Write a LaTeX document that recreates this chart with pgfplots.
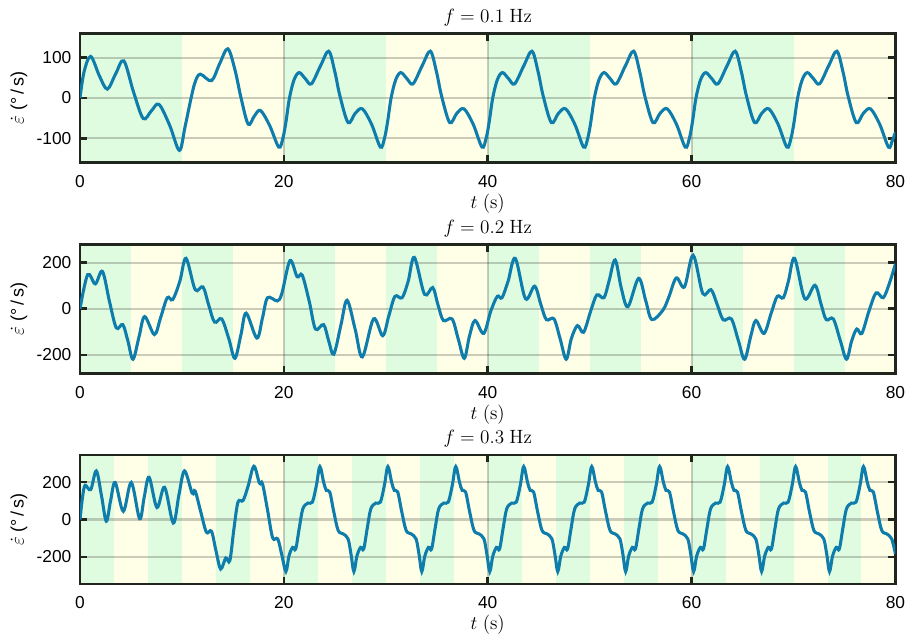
\documentclass[border=0pt]{standalone}
\usepackage[no-math]{fontspec}
\setmainfont{Liberation Sans}
\usepackage{pgfplots}
\pgfplotsset{compat=1.18}
\definecolor{bandgreen}{RGB}{224,252,224}
\definecolor{bandyellow}{RGB}{255,254,230}
\definecolor{curvecol}{RGB}{14,125,172}
\definecolor{framecol}{RGB}{32,38,30}
\pgfplotsset{
 set layers,
 myax/.style={
  scale only axis, width=611.6pt, height=96.75pt,
  xmin=0, xmax=80, xtick={0,20,40,60,80},
  clip mode=individual,
  axis background/.style={fill=bandyellow},
  axis line style={line width=2pt, draw=framecol},
  tick style={line width=2pt, draw=framecol},
  major tick length=5.5pt,
  tick align=inside,
  xmajorgrids, ymajorgrids,
  major grid style={line width=1.6pt, draw=black, opacity=0.2},
  /pgf/number format/assume math mode=true,
  tick label style={font=\fontsize{13}{15}\selectfont},
  xticklabel style={yshift=-6pt},
  yticklabel style={xshift=-3pt},
  label style={font=\fontsize{14.4}{17}\selectfont},
  xlabel style={yshift=2pt},
  title style={font=\fontsize{14.4}{17}\selectfont, yshift=-4pt},
  xlabel={$t\ (\mathrm{s})$},
  ylabel={$\dot{\varepsilon}$ (°\,/\,s)},
  ylabel style={font=\fontsize{13.5}{16}\selectfont, xshift=0pt},
  anchor=north west,
 },
 bg/.style={fill=bandgreen, draw=none, forget plot, on layer=axis background},
 cv/.style={draw=curvecol, line width=2.3pt, smooth, tension=0.55, mark=none},
}
\begin{document}
\begin{tikzpicture}
\path (0,0) (685.5pt,-475.5pt);
% ---------------- f = 0.1 Hz
\begin{axis}[myax, at={(60pt,-25.1pt)}, ymin=-160, ymax=160, ytick={-100,0,100},
  title={$f = 0.1\ \mathrm{Hz}$}]
\addplot[bg] coordinates {(0,-999) (10,-999) (10,999) (0,999)};
\addplot[bg] coordinates {(20,-999) (30,-999) (30,999) (20,999)};
\addplot[bg] coordinates {(40,-999) (50,-999) (50,999) (40,999)};
\addplot[bg] coordinates {(60,-999) (70,-999) (70,999) (60,999)};
\addplot[cv] coordinates {
(0,0) (0.4,65) (1.05,103) (1.9,55) (2.68,22) (3.5,60) (4.3,92) (5.25,15) (6.2,-51) (7.0,-32) (7.75,-16) (8.8,-68) (9.75,-130)
(10.3,-72) (10.9,0) (11.3,40) (11.8,59) (12.9,43) (13.7,85) (14.5,122) (15.2,70) (15.8,0) (16.5,-65) (17.1,-45) (17.7,-31) (18.6,-68)
(19.5,-122) (19.9,-100) (20.2,-60) (20.55,0) (21.0,45) (21.5,63) (22.1,48) (22.7,35) (23.6,80) (24.4,116) (25.0,65) (25.5,5) (26.3,-61) (27.0,-38) (27.7,-27) (28.6,-65)
(29.47,-122) (29.87,-100) (30.17,-60) (30.52,0) (30.97,45) (31.47,63) (32.07,48) (32.67,35) (33.57,80) (34.37,116) (34.97,65) (35.47,5) (36.27,-61) (36.97,-38) (37.67,-27) (38.57,-65)
(39.44,-122) (39.84,-100) (40.14,-60) (40.49,0) (40.94,45) (41.44,63) (42.04,48) (42.64,35) (43.54,80) (44.34,116) (44.94,65) (45.44,5) (46.24,-61) (46.94,-38) (47.64,-27) (48.54,-65)
(49.41,-122) (49.81,-100) (50.11,-60) (50.46,0) (50.91,45) (51.41,63) (52.01,48) (52.61,35) (53.51,80) (54.31,116) (54.91,65) (55.41,5) (56.21,-61) (56.91,-38) (57.61,-27) (58.51,-65)
(59.38,-122) (59.78,-100) (60.08,-60) (60.43,0) (60.88,45) (61.38,63) (61.98,48) (62.58,35) (63.48,80) (64.28,116) (64.88,65) (65.38,5) (66.18,-61) (66.88,-38) (67.58,-27) (68.48,-65)
(69.35,-122) (69.75,-100) (70.05,-60) (70.4,0) (70.85,45) (71.35,63) (71.95,48) (72.55,35) (73.45,80) (74.25,116) (74.85,65) (75.35,5) (76.15,-61) (76.85,-38) (77.55,-27) (78.45,-65)
(79.32,-122) (79.7,-105) (80,-85)
};
\end{axis}
% ---------------- f = 0.2 Hz
\begin{axis}[myax, at={(60pt,-183.2pt)}, ymin=-280, ymax=280, ytick={-200,0,200},
  title={$f = 0.2\ \mathrm{Hz}$}]
\addplot[bg] coordinates {(0,-999) (5,-999) (5,999) (0,999)};
\addplot[bg] coordinates {(10,-999) (15,-999) (15,999) (10,999)};
\addplot[bg] coordinates {(20,-999) (25,-999) (25,999) (20,999)};
\addplot[bg] coordinates {(30,-999) (35,-999) (35,999) (30,999)};
\addplot[bg] coordinates {(40,-999) (45,-999) (45,999) (40,999)};
\addplot[bg] coordinates {(50,-999) (55,-999) (55,999) (50,999)};
\addplot[bg] coordinates {(60,-999) (65,-999) (65,999) (60,999)};
\addplot[bg] coordinates {(70,-999) (75,-999) (75,999) (70,999)};
\addplot[cv] coordinates {
(0,0) (0.75,148) (1.5,108) (2.2,162) (2.9,30) (3.56,-83) (4.2,-69) (4.7,-140) (5.2,-219) (5.8,-120) (6.34,-34) (7.3,-112) (7.9,-40)
(8.56,48) (9.1,40) (9.8,120) (10.4,219) (11.3,83) (12.06,95) (12.6,20) (13.2,-58) (13.9,-44) (14.6,-130) (15.2,-215) (15.8,-110)
(16.3,-19) (17.35,-127) (17.9,-40) (18.4,48) (19.35,34) (19.8,66) (20.6,209) (21.3,139) (21.8,146) (22.5,30) (23.1,-88) (23.9,-69)
(24.4,-140) (24.9,-197) (25.6,-70) (26.2,37) (27.0,-90) (27.7,-209) (28.8,-44) (29.7,-117) (30.3,-30) (30.9,54) (31.6,48) (32.2,120)
(32.8,223) (33.8,63) (34.6,92) (35.1,20) (35.65,-51) (36.5,-44) (37.1,-130) (37.7,-215) (38.2,-120) (38.75,-51) (39.6,-107) (40.3,-10)
(40.94,54) (41.4,48) (42.0,120) (42.7,219) (43.7,44) (44.6,98) (45.2,20) (45.75,-47) (46.5,-44) (47.1,-130) (47.7,-219) (48.2,-130)
(48.8,-73) (49.4,-102) (50.1,-10) (50.7,60) (51.4,48) (51.9,120) (52.5,212) (53.1,90) (53.75,9) (54.8,132) (55.5,35) (56.1,-47)
(57.2,-5) (57.8,55) (58.5,134) (59.3,95) (60.15,232) (61.1,66) (61.9,83) (62.5,20) (63.1,-48) (63.9,-44) (64.6,-140) (65.2,-219)
(65.8,-120) (66.3,-51) (67.1,-107) (67.8,-20) (68.4,54) (69.0,48) (69.5,120) (70.1,219) (71.1,44) (72.1,102) (72.7,20) (73.2,-47)
(73.9,-44) (74.6,-140) (75.2,-219) (75.7,-140) (76.2,-88) (76.7,-107) (77.4,-10) (78.1,69) (78.8,48) (79.4,110) (80,195)
};
\end{axis}
% ---------------- f = 0.3 Hz
\begin{axis}[myax, at={(60pt,-341.25pt)}, ymin=-345, ymax=345, ytick={-200,0,200},
  title={$f = 0.3\ \mathrm{Hz}$}]
\addplot[bg] coordinates {(0,-999) (3.333,-999) (3.333,999) (0,999)};
\addplot[bg] coordinates {(6.667,-999) (10,-999) (10,999) (6.667,999)};
\addplot[bg] coordinates {(13.333,-999) (16.667,-999) (16.667,999) (13.333,999)};
\addplot[bg] coordinates {(20,-999) (23.333,-999) (23.333,999) (20,999)};
\addplot[bg] coordinates {(26.667,-999) (30,-999) (30,999) (26.667,999)};
\addplot[bg] coordinates {(33.333,-999) (36.667,-999) (36.667,999) (33.333,999)};
\addplot[bg] coordinates {(40,-999) (43.333,-999) (43.333,999) (40,999)};
\addplot[bg] coordinates {(46.667,-999) (50,-999) (50,999) (46.667,999)};
\addplot[bg] coordinates {(53.333,-999) (56.667,-999) (56.667,999) (53.333,999)};
\addplot[bg] coordinates {(60,-999) (63.333,-999) (63.333,999) (60,999)};
\addplot[bg] coordinates {(66.667,-999) (70,-999) (70,999) (66.667,999)};
\addplot[bg] coordinates {(73.333,-999) (76.667,-999) (76.667,999) (73.333,999)};
\addplot[cv] coordinates {
(0,0) (0.25,120) (0.5,183) (1.05,160) (1.6,260) (2.1,130) (2.58,-9) (3.0,100) (3.45,198) (4.25,44) (5.03,198) (5.85,4) (6.3,120)
(6.78,226) (7.55,64) (8.3,172) (9.15,-19) (9.7,130) (10.25,260) (11.0,141) (11.3,152) (11.85,40) (12.4,-68) (12.9,-63) (13.35,-170)
(13.8,-265) (14.3,-206) (14.7,-220) (15.1,-50) (15.5,93) (16.0,102) (16.5,180) (17.06,285) (17.6,195) (17.9,192) (18.4,50)
(18.9,-98) (19.4,-104) (19.8,-190)
(20.2,-278) (20.5,-195) (20.86,-149) (21.16,-158) (21.5,-50) (21.86,57) (22.36,88) (22.8,93) (23.2,185) (23.53,283) (23.9,200) (24.16,156) (24.5,147) (24.9,40) (25.33,-59) (25.82,-77) (26.3,-104) (26.6,-190)
(26.87,-278) (27.17,-195) (27.53,-149) (27.83,-158) (28.17,-50) (28.53,57) (29.03,88) (29.47,93) (29.87,185) (30.2,283) (30.57,200) (30.83,156) (31.17,147) (31.57,40) (32.0,-59) (32.49,-77) (32.97,-104) (33.27,-190)
(33.53,-278) (33.83,-195) (34.19,-149) (34.49,-158) (34.83,-50) (35.19,57) (35.69,88) (36.13,93) (36.53,185) (36.86,283) (37.23,200) (37.49,156) (37.83,147) (38.23,40) (38.66,-59) (39.15,-77) (39.63,-104) (39.93,-190)
(40.2,-278) (40.5,-195) (40.86,-149) (41.16,-158) (41.5,-50) (41.86,57) (42.36,88) (42.8,93) (43.2,185) (43.53,283) (43.9,200) (44.16,156) (44.5,147) (44.9,40) (45.33,-59) (45.82,-77) (46.3,-104) (46.6,-190)
(46.87,-278) (47.17,-195) (47.53,-149) (47.83,-158) (48.17,-50) (48.53,57) (49.03,88) (49.47,93) (49.87,185) (50.2,283) (50.57,200) (50.83,156) (51.17,147) (51.57,40) (52.0,-59) (52.49,-77) (52.97,-104) (53.27,-190)
(53.53,-278) (53.83,-195) (54.19,-149) (54.49,-158) (54.83,-50) (55.19,57) (55.69,88) (56.13,93) (56.53,185) (56.86,283) (57.23,200) (57.49,156) (57.83,147) (58.23,40) (58.66,-59) (59.15,-77) (59.63,-104) (59.93,-190)
(60.2,-278) (60.5,-195) (60.86,-149) (61.16,-158) (61.5,-50) (61.86,57) (62.36,88) (62.8,93) (63.2,185) (63.53,283) (63.9,200) (64.16,156) (64.5,147) (64.9,40) (65.33,-59) (65.82,-77) (66.3,-104) (66.6,-190)
(66.87,-278) (67.17,-195) (67.53,-149) (67.83,-158) (68.17,-50) (68.53,57) (69.03,88) (69.47,93) (69.87,185) (70.2,283) (70.57,200) (70.83,156) (71.17,147) (71.57,40) (72.0,-59) (72.49,-77) (72.97,-104) (73.27,-190)
(73.53,-278) (73.83,-195) (74.19,-149) (74.49,-158) (74.83,-50) (75.19,57) (75.69,88) (76.13,93) (76.53,185) (76.86,283) (77.23,200) (77.49,156) (77.83,147) (78.23,40) (78.66,-59) (79.15,-77) (79.63,-104) (80,-185)
};
\end{axis}
\end{tikzpicture}
\end{document}
